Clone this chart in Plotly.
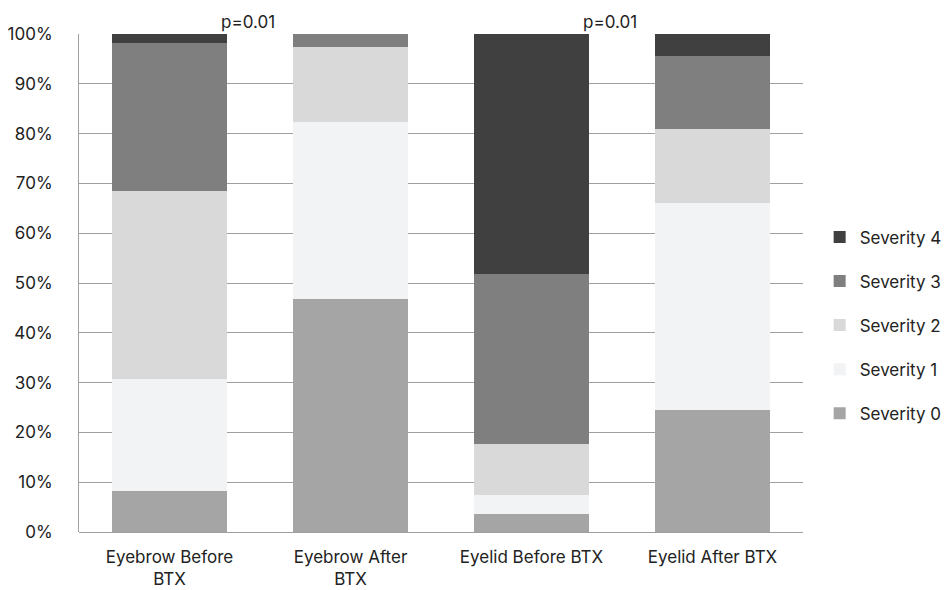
import plotly.graph_objects as go

categories = ["Eyebrow Before<br>BTX", "Eyebrow After<br>BTX", "Eyelid Before BTX", "Eyelid After BTX"]
series_names = ["Severity 0", "Severity 1", "Severity 2", "Severity 3", "Severity 4"]
severity0 = [8.3, 46.8, 3.7, 24.5]
severity1 = [22.4, 35.5, 3.7, 41.5]
severity2 = [37.8, 15.1, 10.2, 14.9]
severity3 = [29.6, 2.6, 34.2, 14.7]
severity4 = [1.9, 0.0, 48.2, 4.4]
series_values = [severity0, severity1, severity2, severity3, severity4]
colors = ["#a5a5a5", "#f2f3f4", "#d9d9d9", "#7f7f7f", "#404040"]
legend_ranks = [5, 4, 3, 2, 1]
tick_vals = [0, 10, 20, 30, 40, 50, 60, 70, 80, 90, 100]
tick_text = [f"{v}%" for v in tick_vals]
p_labels = ["p=0.01", "p=0.01"]
p_positions = [0.5, 2.5]

fig = go.Figure()
for name, vals, col, rank in zip(series_names, series_values, colors, legend_ranks):
    fig.add_trace(go.Bar(
        x=list(range(len(categories))), y=vals, name=name,
        marker=dict(color=col, line=dict(width=0)),
        legendgroup=name, legendrank=rank,
    ))

for xp, txt in zip(p_positions, p_labels):
    fig.add_annotation(x=xp, y=100, xref="x", yref="y", text=txt, showarrow=False,
                       yanchor="bottom", yshift=0, xshift=-12,
                       font=dict(size=17, color="#222222"))

font_family = "Inter, Roboto, sans-serif"
fig.update_layout(
    barmode="stack",
    bargap=0.36,
    width=947, height=590,
    margin=dict(l=79, r=144, t=34, b=58, autoexpand=False),
    paper_bgcolor="white", plot_bgcolor="white",
    font=dict(family=font_family, size=17, color="#222222"),
    legend=dict(
        traceorder="grouped", tracegroupgap=19,
        x=1.023, xanchor="left", y=0.415, yanchor="middle",
        font=dict(size=17, color="#222222"),
        itemwidth=30,
    ),
    xaxis=dict(
        tickmode="array", tickvals=list(range(len(categories))), ticktext=categories,
        range=[-0.5, 3.5], showgrid=False, zeroline=False, showline=False,
        ticks="", tickfont=dict(size=17), ticklabelstandoff=13,
    ),
    yaxis=dict(
        range=[0, 100], tickmode="array", tickvals=tick_vals, ticktext=tick_text,
        showgrid=True, gridcolor="#a0a0a0", gridwidth=1,
        zeroline=True, zerolinecolor="#a0a0a0", zerolinewidth=1,
        showline=True, linecolor="#a0a0a0", linewidth=1,
        ticks="", tickfont=dict(size=17), ticklabelstandoff=22,
    ),
)

fig.write_html("out.html", config={"displayModeBar": False},
               post_script="document.body.style.margin='0px';")
